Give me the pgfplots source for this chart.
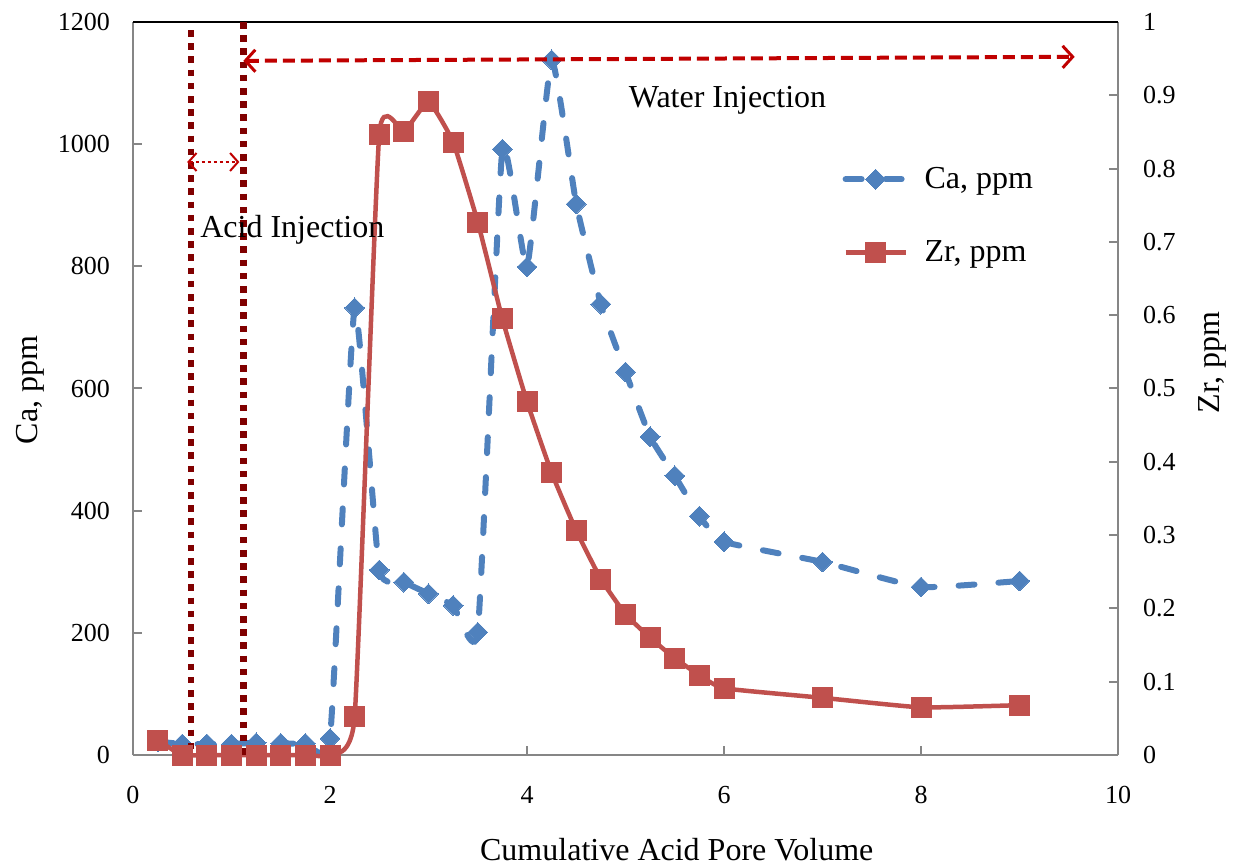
\documentclass[border=0pt]{standalone}
\usepackage{fontspec}
\setmainfont{Liberation Serif}
\usepackage{pgfplots}
\pgfplotsset{compat=1.18}
\usetikzlibrary{arrows.meta}
\definecolor{cablue}{HTML}{4F81BD}
\definecolor{zrred}{HTML}{C0504D}
\definecolor{darkred}{HTML}{800000}
\definecolor{arrred}{HTML}{C00000}
\definecolor{axgray}{HTML}{868686}
\newcommand{\tickfont}{\fontsize{13}{15}\selectfont}
\newcommand{\txtfont}{\fontsize{16}{19}\selectfont}
\begin{document}
\begin{tikzpicture}
\pgfplotsset{
  every axis/.append style={
    scale only axis, width=492.5pt, height=366.5pt,
    xmin=0, xmax=10,
    /pgf/number format/assume math mode=true,
    /pgf/number format/1000 sep={},
    tick style={axgray, line width=1pt},
    major tick length=4.5pt,
    tick align=inside,
    axis line style={axgray, line width=1pt},
    ticklabel style={font=\tickfont},
    label style={font=\txtfont},
    clip=false,
  }
}
\begin{axis}[
  name=ca,
  axis x line*=bottom, axis y line*=left,
  ymin=0, ymax=1200,
  xtick={0,2,4,6,8,10},
  ytick={0,200,...,1200},
  xticklabel style={yshift=-12pt},
  yticklabel style={xshift=-8pt},
  xlabel={Cumulative Acid Pore Volume},
  ylabel={Ca, ppm},
  xlabel style={at={(axis description cs:0.552,0)}, anchor=center, yshift=-47.5pt},
  ylabel style={at={(axis description cs:-0.1046,0.498)}, anchor=center},
  legend style={draw=none, fill=none, at={(axis description cs:0.72,0.808)}, anchor=north west,
    font=\txtfont, row sep=20.5pt, inner sep=0pt, legend cell align=left,
    /tikz/every odd column/.append style={column sep=6pt}},
  legend image code/.code={\draw[mark repeat=2,mark phase=2,#1] plot coordinates {(0pt,0pt)(15pt,0pt)(30pt,0pt)};},
]
\addplot[cablue, line width=3pt, dash pattern=on 8pt off 12pt, line cap=round, smooth, tension=0.25,
  mark=square*, mark size=3.5pt, mark options={solid, rotate=45, fill=cablue, draw=cablue, line width=0pt}]
coordinates {
(0.25,22) (0.5,18) (0.75,18) (1.0,18) (1.25,20) (1.5,19) (1.75,19) (2.0,27)
(2.25,732) (2.5,303) (2.75,283) (3.0,264) (3.25,245) (3.5,201) (3.75,992)
(4.0,799) (4.25,1138) (4.5,902) (4.75,738) (5.0,627) (5.25,521) (5.5,457)
(5.75,391) (6.0,349) (7.0,316) (8.0,275) (9.0,285)
};
\addlegendentry{Ca, ppm}
\addlegendimage{zrred, line width=2.25pt, mark=square*, mark size=5pt, mark options={solid, fill=zrred, draw=zrred, line width=0pt}}
\addlegendentry{Zr, ppm}
\end{axis}
\begin{axis}[
  axis x line=none, axis y line*=right,
  ymin=0, ymax=1,
  ytick={0,0.1,...,1.0},
  yticklabel style={xshift=9pt, /pgf/number format/fixed, /pgf/number format/precision=1},
  ylabel={Zr, ppm},
  ylabel style={at={(axis description cs:1.0954,0.536)}, anchor=center},
]
\addplot[zrred, line width=2.25pt, smooth, tension=0.25,
  mark=square*, mark size=5pt, mark options={solid, fill=zrred, draw=zrred, line width=0pt}]
coordinates {
(0.25,0.020) (0.5,0) (0.75,0) (1.0,0) (1.25,0) (1.5,0) (1.75,0) (2.0,0)
(2.25,0.052) (2.5,0.847) (2.75,0.850) (3.0,0.891) (3.25,0.836) (3.5,0.727)
(3.75,0.595) (4.0,0.482) (4.25,0.385) (4.5,0.306) (4.75,0.240) (5.0,0.192)
(5.25,0.160) (5.5,0.132) (5.75,0.109) (6.0,0.091) (7.0,0.078) (8.0,0.065) (9.0,0.068)
};
% top border
\draw[black, line width=1pt] (rel axis cs:0,1) -- (rel axis cs:1,1);
% vertical dotted lines
\draw[darkred, line width=3.3pt, dash pattern=on 3.3pt off 3.3pt] (axis cs:0.59,0.989) -- (axis cs:0.59,0);
\draw[darkred, line width=3.3pt, dash pattern=on 3.3pt off 3.3pt] (axis cs:1.12,1.0) -- (axis cs:1.12,0);
% small double arrow
\draw[arrred, line width=1pt, dash pattern=on 1.5pt off 1.5pt,
  {Straight Barb[length=4pt,width=9pt,line width=1pt]}-{Straight Barb[length=4pt,width=9pt,line width=1pt]}]
  (axis cs:0.55,0.809) -- (axis cs:1.08,0.809);
% big dashed arrow
\draw[arrred, line width=2pt, dash pattern=on 6pt off 3pt,
  {Straight Barb[length=5pt,width=11pt,line width=1.5pt]}-{Straight Barb[length=5pt,width=11pt,line width=1.5pt]}]
  (axis cs:1.12,0.947) -- (axis cs:9.56,0.9525);
\node[anchor=west, font=\txtfont, inner sep=0pt] at (axis cs:0.68,0.717) {Acid Injection};
\node[anchor=west, font=\txtfont, inner sep=0pt] at (axis cs:5.03,0.893) {Water Injection};
\end{axis}
\pgfresetboundingbox
\path (ca.south west) ++(-66.5pt,-55.5pt) coordinate (bl);
\path (ca.north east) ++(58pt,11pt) coordinate (tr);
\path[use as bounding box] (bl) rectangle (tr);
\end{tikzpicture}
\end{document}
